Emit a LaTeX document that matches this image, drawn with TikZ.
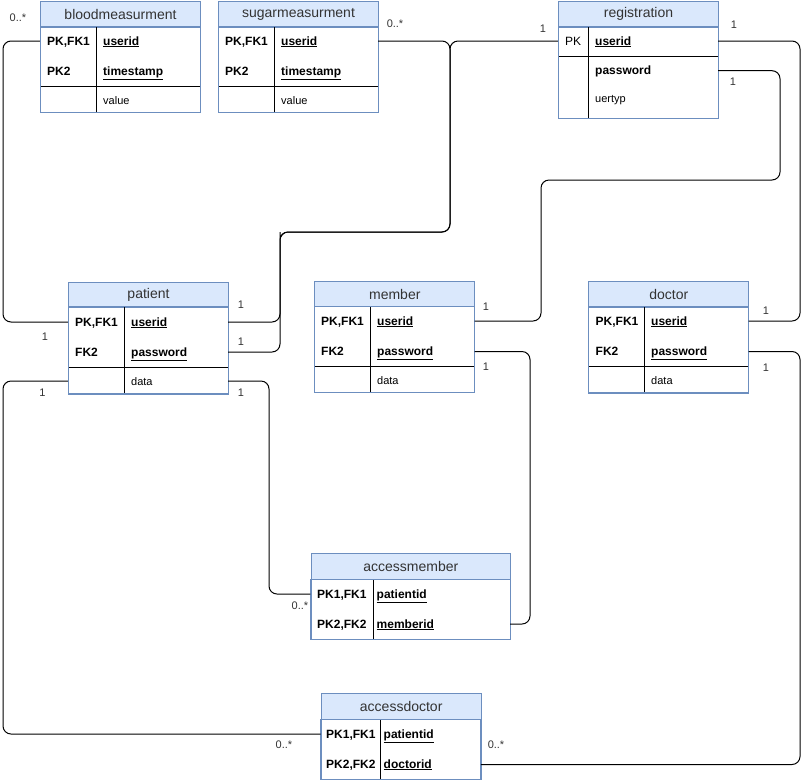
\documentclass[tikz,border=0pt]{standalone}
\usepackage{fontspec}
\setmainfont{Liberation Sans}
\definecolor{hdrfill}{HTML}{DAE8FC}
\definecolor{hdrline}{HTML}{6C8EBF}
\definecolor{lbl}{HTML}{333333}
\tikzset{
  hdr/.style={draw=hdrline, fill=hdrfill, anchor=north west, inner sep=0pt, line width=1pt,
    font=\fontsize{14}{16}\selectfont, text=lbl},
  bodybox/.style={draw=hdrline, fill=white, anchor=north west, inner sep=0pt, line width=1pt},
  rowspot/.style={inner sep=0pt, minimum height=30pt},
  keytxt/.style={anchor=west, inner sep=0pt, font=\fontsize{12}{14}\selectfont\bfseries,
    text height=9pt, text depth=0.8pt},
  keyplain/.style={anchor=west, inner sep=0pt, font=\fontsize{12}{14}\selectfont,
    text height=9pt, text depth=0.8pt},
  plaintxt/.style={anchor=west, inner sep=0pt, font=\fontsize{11}{13}\selectfont,
    text height=9pt, text depth=0.8pt},
  card/.style={inner sep=0pt, font=\fontsize{11}{13}\selectfont, text=lbl},
  divider/.style={draw=black, line width=1pt},
  conn/.style={draw=black, line width=1pt, rounded corners=8pt}
}
\newcommand{\ul}[1]{\underline{#1}}
\begin{document}
\begin{tikzpicture}[x=1pt,y=-1pt]
\useasboundingbox (0,0) rectangle (802,780);

% ---------- bloodmeasurment ----------
\node[bodybox, minimum width=160pt, minimum height=86pt] (bm-body) at (40,26) {};
\node[hdr, minimum width=160pt, minimum height=26pt] (bm) at (40,0.5) {bloodmeasurment};
\draw[divider] (96.7,26) -- (96.7,111.5);
\draw[divider] (40.5,86.7) -- (199.5,86.7);
\draw[hdrline, line width=1pt] (40,26) rectangle (200,112);
\node[rowspot, minimum width=160pt] (bm-userid) at (120,41) {};
\node[keytxt] at (47,41) {PK,FK1};
\node[keytxt] at (103,41) {\ul{userid}};
\node[keytxt] at (47,71) {PK2};
\node[keytxt] at (103,71) {\ul{timestamp}};
\node[plaintxt] at (103,100.5) {value};

% ---------- sugarmeasurment ----------
\node[bodybox, minimum width=160pt, minimum height=86pt] (sm-body) at (218,26) {};
\node[hdr, minimum width=160pt, minimum height=26pt] (sm) at (218,0.5) {sugarmeasurment};
\draw[divider] (274.7,26) -- (274.7,111.5);
\draw[divider] (218.5,86.7) -- (377.5,86.7);
\draw[hdrline, line width=1pt] (218,26) rectangle (378,112);
\node[rowspot, minimum width=160pt] (sm-userid) at (298,41) {};
\node[keytxt] at (225,41) {PK,FK1};
\node[keytxt] at (281,41) {\ul{userid}};
\node[keytxt] at (225,71) {PK2};
\node[keytxt] at (281,71) {\ul{timestamp}};
\node[plaintxt] at (281,100.5) {value};

% ---------- registration ----------
\node[bodybox, minimum width=160pt, minimum height=92pt] (rg-body) at (558,26) {};
\node[hdr, minimum width=160pt, minimum height=26pt] (rg) at (558,0.5) {registration};
\draw[divider] (588.3,26) -- (588.3,117.5);
\draw[divider] (558.5,56.7) -- (717.5,56.7);
\draw[hdrline, line width=1pt] (558,26) rectangle (718,118);
\node[rowspot, minimum width=160pt] (rg-userid) at (638,41) {};
\node[rowspot, minimum width=160pt] (rg-password) at (638,70.7) {};
\node[keyplain] at (565,41) {PK};
\node[keytxt] at (595,41) {\ul{userid}};
\node[keytxt] at (595,70.7) {password};
\node[plaintxt] at (595,98.7) {uertyp};

% ---------- patient ----------
\node[bodybox, minimum width=160pt, minimum height=87pt] (pa-body) at (68,306.7) {};
\node[hdr, minimum width=160pt, minimum height=25pt] (pa) at (68,281.7) {patient};
\draw[divider] (124.7,306.7) -- (124.7,393);
\draw[divider] (68.5,367.7) -- (227.5,367.7);
\draw[hdrline, line width=1pt] (68,306.7) rectangle (228,393.5);
\node[rowspot, minimum width=160pt] (pa-userid) at (148,322) {};
\node[rowspot, minimum width=160pt] (pa-password) at (148,352) {};
\node[rowspot, minimum width=160pt, minimum height=25pt] (pa-data) at (148,381) {};
\node[keytxt] at (75,322) {PK,FK1};
\node[keytxt] at (131,322) {\ul{userid}};
\node[keytxt] at (75,352) {FK2};
\node[keytxt] at (131,352) {\ul{password}};
\node[plaintxt] at (131,381) {data};

% ---------- member ----------
\node[bodybox, minimum width=160pt, minimum height=86pt] (me-body) at (314.3,306.3) {};
\node[hdr, minimum width=160pt, minimum height=25.6pt] (me) at (314.3,280.7) {member};
\draw[divider] (370.7,306.3) -- (370.7,392);
\draw[divider] (314.8,366.7) -- (473.8,366.7);
\draw[hdrline, line width=1pt] (314.3,306.3) rectangle (474.3,392.5);
\node[rowspot, minimum width=160pt] (me-userid) at (394.3,321) {};
\node[rowspot, minimum width=160pt] (me-password) at (394.3,351.5) {};
\node[keytxt] at (321,321) {PK,FK1};
\node[keytxt] at (377,321) {\ul{userid}};
\node[keytxt] at (321,351) {FK2};
\node[keytxt] at (377,351) {\ul{password}};
\node[plaintxt] at (377,380) {data};

% ---------- doctor ----------
\node[bodybox, minimum width=160pt, minimum height=86pt] (dc-body) at (588.3,306.5) {};
\node[hdr, minimum width=160pt, minimum height=25.8pt] (dc) at (588.3,280.7) {doctor};
\draw[divider] (644.5,306.5) -- (644.5,392);
\draw[divider] (588.8,366.5) -- (747.8,366.5);
\draw[hdrline, line width=1pt] (588.3,306.5) rectangle (748.3,392.5);
\node[rowspot, minimum width=160pt] (dc-userid) at (668.3,321) {};
\node[rowspot, minimum width=160pt] (dc-password) at (668.3,351.5) {};
\node[keytxt] at (595.5,321) {PK,FK1};
\node[keytxt] at (651,321) {\ul{userid}};
\node[keytxt] at (595.5,351) {FK2};
\node[keytxt] at (651,351) {\ul{password}};
\node[plaintxt] at (651,380) {data};

% ---------- accessmember ----------
\node[bodybox, minimum width=199.3pt, minimum height=59.7pt] (am-body) at (310.7,579.3) {};
\node[hdr, minimum width=199.3pt, minimum height=26pt] (am) at (310.7,553.3) {accessmember};
\draw[divider] (373.3,579.3) -- (373.3,638.5);
\draw[hdrline, line width=1pt] (310.7,579.3) rectangle (510,639);
\node[rowspot, minimum width=199.3pt] (am-patientid) at (410.3,594) {};
\node[rowspot, minimum width=199.3pt] (am-memberid) at (410.3,624) {};
\node[keytxt] at (317,594) {PK1,FK1};
\node[keytxt] at (376.5,594) {\ul{patientid}};
\node[keytxt] at (317,624) {PK2,FK2};
\node[keytxt] at (376.5,624) {\ul{memberid}};

% ---------- accessdoctor ----------
\node[bodybox, minimum width=160pt, minimum height=59.7pt] (ad-body) at (320.7,719.3) {};
\node[hdr, minimum width=160pt, minimum height=26pt] (ad) at (320.7,693.3) {accessdoctor};
\draw[divider] (380.3,719.3) -- (380.3,778.5);
\draw[hdrline, line width=1pt] (320.7,719.3) rectangle (480.7,779);
\node[rowspot, minimum width=160pt] (ad-patientid) at (400.7,734) {};
\node[rowspot, minimum width=160pt] (ad-doctorid) at (400.7,764.5) {};
\node[keytxt] at (326,734) {PK1,FK1};
\node[keytxt] at (383.5,734) {\ul{patientid}};
\node[keytxt] at (326,764) {PK2,FK2};
\node[keytxt] at (383.5,764) {\ul{doctorid}};

% ---------- connectors ----------
% bloodmeasurment -- patient
\draw[conn] (bm-userid.west) -| (3,200) |- (pa-userid.west);
% sugarmeasurment -- patient
\draw[conn] (sm-userid.east) -- (450,41) -- (450,232) -- (280,232) |- (pa-userid.east);
% patient -- registration
\draw[conn] (pa-password.east) -| (280,240) -- (280,232) -- (450,232) |- (rg-userid.west);
% registration -- doctor
\draw[conn] (rg-userid.east) -| (800,200) |- (dc-userid.east);
% registration -- member
\draw[conn] (rg-password.east) -| (780,120) |- (541,180) |- (me-userid.east);
% member -- accessmember
\draw[conn] (me-password.east) -| (530,500) |- (am-memberid.east);
% patient -- accessmember
\draw[conn] (pa-data.east) -| (269,500) |- (am-patientid.west);
% patient -- accessdoctor
\draw[conn] (pa-data.west) -| (3,600) |- (ad-patientid.west);
% doctor -- accessdoctor
\draw[conn] (dc-password.east) -| (800,600) |- (ad-doctorid.east);

% ---------- cardinalities ----------
\node[card] (c1) at (18,18) {0..*};
\node[card] (c2) at (45,337) {1};
\node[card] (c3) at (395,24) {0..*};
\node[card] (c4) at (543,29) {1};
\node[card] (c5) at (734,25) {1};
\node[card] (c6) at (733,82) {1};
\node[card] (c7) at (241,305) {1};
\node[card] (c8) at (241,342) {1};
\node[card] (c9) at (42.5,393) {1};
\node[card] (c10) at (241,393) {1};
\node[card] (c11) at (486,307) {1};
\node[card] (c12) at (486,366.5) {1};
\node[card] (c13) at (766,311) {1};
\node[card] (c14) at (766,367.5) {1};
\node[card] (c15) at (300,606) {0..*};
\node[card] (c16) at (284,745) {0..*};
\node[card] (c17) at (496,745) {0..*};
\end{tikzpicture}
\end{document}
